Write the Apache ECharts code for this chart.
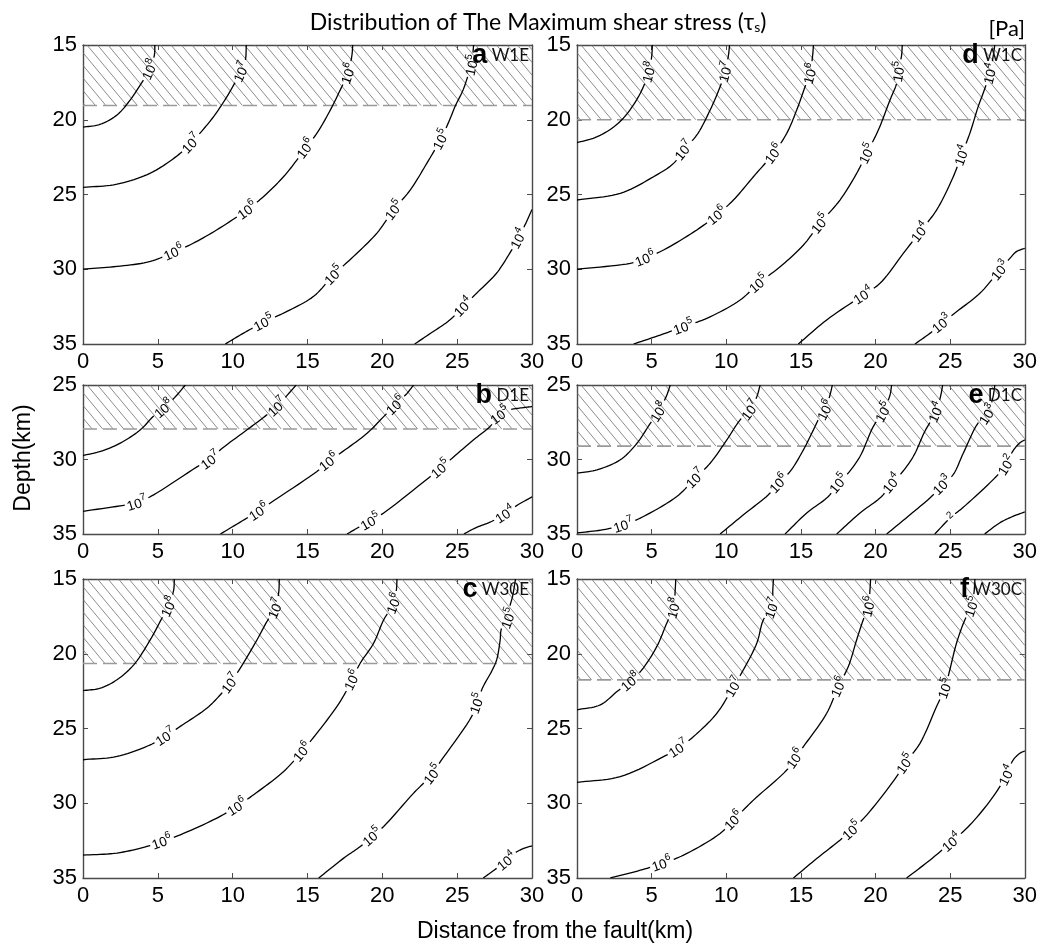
<!DOCTYPE html>
<html><head><meta charset="utf-8">
<script src="https://cdn.jsdelivr.net/npm/echarts@6/dist/echarts.min.js"></script>
<style>html,body{margin:0;padding:0;background:#fff}#c{width:1040px;height:946px}</style>
</head><body><div id="c"></div>
<script>
// ---------------- DATA ----------------
const panelLetters = ['a', 'b', 'c', 'd', 'e', 'f'];
const panelNames = ['W1E', 'D1E', 'W30E', 'W1C', 'D1C', 'W30C'];
const xTicks = [0, 5, 10, 15, 20, 25, 30];
const depthTop = [15, 25, 15, 15, 25, 15];
const depthBottom = [35, 35, 35, 35, 35, 35];
const hatchBase = [19.05, 27.95, 20.65, 20.0, 29.1, 21.75];

// panel a (W1E)
const aLevels = [8, 7, 6, 5, 4];
const aLines = [
  [[0,20.5],[1.16,20.3],[2.27,19.68],[3.16,18.67],[3.83,17.67],[4.45,16.63],[4.77,15.67],[4.8,15]],
  [[0,24.53],[2.27,24.31],[4.5,23.57],[6.28,22.42],[7.22,21.57],[7.73,21.0],[8.73,19.79],[9.62,18.45],[10.07,17.67],[10.56,16.78],[10.85,16.0],[10.91,15]],
  [[0,29.99],[2.27,29.81],[4.5,29.48],[6.06,28.85],[7.17,28.36],[8.95,27.36],[10.96,26.02],[12.07,25.13],[13.41,23.8],[14.3,22.68],[14.86,21.9],[15.63,20.9],[16.53,19.34],[17.19,18.0],[17.71,16.89],[17.97,15.67],[18.02,15]],
  [[9.51,35],[10.73,34.27],[12.07,33.55],[13.63,32.82],[15.41,31.81],[16.75,30.37],[18.08,29.14],[19.64,27.58],[20.76,26.02],[21.87,24.69],[22.98,22.9],[23.9,21.3],[24.5,20.0],[24.85,19.13],[25.4,18.0],[25.74,17.0],[25.96,16.34],[26.1,15]],
  [[22.16,35],[23.2,34.3],[24.5,33.4],[25.4,32.5],[26.3,31.6],[27.6,30.3],[28.5,28.95],[29.08,27.93],[29.55,27.0],[30,26.0]]
];
const aLabels = [
  [[4.45,16.63]],
  [[7.22,21.57],[10.56,16.78]],
  [[6.06,28.85],[10.96,26.02],[14.86,21.9],[17.71,16.89]],
  [[12.07,33.55],[16.75,30.37],[20.76,26.02],[23.9,21.3],[25.96,16.34]],
  [[25.4,32.5],[29.08,27.93]]
];

// panel b (D1E)
const bLevels = [8, 7, 6, 5, 4];
const bLines = [
  [[0,29.73],[1.16,29.46],[2.49,28.9],[3.83,28.01],[4.72,27.08],[5.39,26.56],[6.28,25.67],[6.84,25]],
  [[0,33.48],[2.94,33.04],[3.61,32.92],[4.72,32.37],[7.84,30.36],[8.51,30.02],[9.18,29.35],[10.96,28.01],[12.29,27.0],[12.96,26.45],[13.85,25.45],[14.25,25]],
  [[9.18,35],[10.96,33.93],[11.74,33.48],[12.52,32.92],[15.63,30.8],[16.41,30.13],[17.19,29.58],[18.98,28.24],[20.09,27.12],[20.87,26.34],[21.65,25.56],[22.09,25]],
  [[17.64,35],[18.53,34.49],[19.2,34.15],[20.09,33.59],[23.21,31.14],[23.88,30.6],[24.4,30.14],[26.1,28.68],[27.19,27.79],[27.86,27.0],[28.52,26.67],[29.41,26.52],[30,26.45]],
  [[25.45,35],[26.2,34.6],[27.3,34.16],[28.19,33.65],[29.06,33.04],[29.86,32.59],[30,32.5]]
];
const bLabels = [
  [[5.39,26.56]],
  [[3.61,32.92],[8.51,30.02],[12.96,26.45]],
  [[11.74,33.48],[16.41,30.13],[20.87,26.34]],
  [[19.2,34.15],[23.88,30.6],[27.86,27.0]],
  [[28.19,33.65]]
];

// panel c (W30E)
const cLevels = [8, 7, 6, 5, 4];
const cLines = [
  [[0,22.47],[1.16,22.3],[2.27,21.74],[3.39,20.74],[4.5,19.06],[5.28,17.61],[5.72,16.83],[6.06,15.72],[6.1,15]],
  [[0,27.09],[2.27,26.87],[4.5,26.09],[5.5,25.53],[6.5,24.86],[8.29,23.63],[9.18,22.74],[9.84,21.96],[10.51,20.96],[11.63,19.06],[12.29,17.84],[12.85,16.95],[13.07,15.95],[13.12,15]],
  [[0,33.47],[2.27,33.33],[4.28,32.89],[5.28,32.55],[6.5,32.11],[8.95,30.99],[10.29,30.21],[11.4,29.43],[13.41,27.87],[14.63,26.53],[15.63,25.31],[16.97,23.52],[17.64,22.41],[17.97,21.74],[18.53,20.62],[19.42,19.29],[20.09,17.73],[20.76,16.62],[20.94,15.72],[20.98,15]],
  [[15.75,35],[17.42,33.67],[18.53,32.89],[19.31,32.22],[20.09,31.55],[22.09,29.32],[22.65,28.76],[23.35,28.05],[23.74,27.42],[25.97,24.19],[26.3,23.3],[26.74,22.19],[27.3,21.18],[27.64,20.4],[27.86,19.18],[27.97,18.28],[28.41,17.61],[28.52,16.84],[28.7,16.17],[28.9,15]],
  [[26.74,35],[27.3,34.6],[28.3,33.85],[28.9,33.3],[29.5,33.0],[30,32.85]]
];
const cLabels = [
  [[5.72,16.83]],
  [[5.5,25.53],[9.84,21.96],[12.85,16.95]],
  [[5.28,32.55],[10.29,30.21],[14.63,26.53],[17.97,21.74],[20.76,16.62]],
  [[19.31,32.22],[23.35,28.05],[26.3,23.3],[28.41,17.61]],
  [[28.3,33.85]]
];

// panel d (W1C)
const dLevels = [8, 7, 6, 5, 4, 3];
const dLines = [
  [[0,21.53],[1.2,21.2],[2.3,20.6],[3.1,19.9],[3.85,18.9],[4.4,17.9],[4.8,16.8],[5.0,15.8],[5.05,15]],
  [[0,25.37],[2.9,24.92],[5.13,23.81],[6.47,22.92],[7.14,22.02],[8.03,21.02],[8.92,19.35],[9.59,17.79],[9.93,16.78],[10.15,15.67],[10.22,15]],
  [[0,30.0],[3.57,29.6],[4.57,29.27],[5.8,28.71],[8.03,27.37],[9.37,26.37],[10.48,25.37],[11.82,23.81],[13.16,22.25],[14.05,20.91],[14.72,19.35],[15.28,17.79],[15.61,16.9],[15.79,15.67],[15.84,15]],
  [[3.79,35],[5.58,34.4],[7.14,33.84],[8.7,33.28],[10.93,32.06],[12.16,30.94],[13.61,29.83],[15.17,28.38],[16.28,26.93],[17.62,25.37],[18.74,23.58],[19.41,22.25],[20.19,20.69],[20.97,18.68],[21.42,17.56],[21.53,16.78],[21.75,15.67],[21.79,15]],
  [[14.83,35],[16.73,33.39],[19.18,31.72],[20.3,30.94],[21.86,28.94],[22.98,27.49],[24.09,26.04],[25.21,23.81],[25.76,22.36],[26.32,20.91],[26.88,19.12],[27.21,18.23],[27.66,16.9],[27.88,15.78],[27.99,15]],
  [[22.64,35],[23.64,34.29],[24.43,33.62],[25.43,32.84],[26.99,31.61],[28.33,30.05],[29.0,29.27],[29.44,28.82],[30,28.6]]
];
const dLabels = [
  [[4.8,16.8]],
  [[7.14,22.02],[9.93,16.78]],
  [[4.57,29.27],[9.37,26.37],[13.16,22.25],[15.61,16.9]],
  [[7.14,33.84],[12.16,30.94],[16.28,26.93],[19.41,22.25],[21.53,16.78]],
  [[19.18,31.72],[22.98,27.49],[25.76,22.36],[27.66,16.9]],
  [[24.43,33.62],[28.33,30.05]]
];

// panel e (D1C)
const eLevels = [8, 7, 6, 5, 4, 3, 2, 1];
const eLines = [
  [[0,30.92],[1.34,30.69],[2.9,30.02],[4.02,28.91],[4.91,27.57],[5.47,26.79],[6.02,25.67],[6.25,25]],
  [[0,34.93],[1.78,34.71],[3.12,34.38],[4.24,33.93],[6.69,32.48],[7.92,31.25],[8.92,30.25],[10.04,28.68],[10.93,27.34],[11.6,26.67],[12.05,25.78],[12.27,25]],
  [[9.59,35],[11.15,33.71],[12.82,32.37],[13.5,31.58],[14.28,30.8],[15.17,29.35],[15.84,28.01],[16.28,27.12],[16.62,26.67],[16.95,25.67],[17.11,25]],
  [[13.94,35],[15.39,33.59],[16.84,32.48],[17.51,31.58],[18.07,31.03],[18.96,29.8],[19.85,27.79],[20.52,26.79],[20.97,25.67],[21.08,25]],
  [[17.4,35],[18.96,33.59],[20.41,32.48],[21.08,31.58],[21.64,31.03],[22.53,29.8],[23.31,28.1],[24.05,26.8],[24.35,25.8],[24.5,25]],
  [[20.75,35],[22.31,33.71],[23.87,32.37],[24.45,31.7],[25.19,31.03],[25.88,29.58],[26.86,27.57],[27.5,26.95],[27.85,25.9],[28.0,25]],
  [[23.97,35],[25.08,33.85],[25.84,33.24],[28.09,31.14],[28.76,30.36],[29.18,29.47],[29.65,28.9],[30,28.68]],
  [[27.31,35],[28.31,34.26],[29.2,33.82],[30,33.52]]
];
const eLabels = [
  [[5.47,26.79]],
  [[3.12,34.38],[7.92,31.25],[11.6,26.67]],
  [[13.5,31.58],[16.62,26.67]],
  [[17.51,31.58],[20.52,26.79]],
  [[21.08,31.58],[24.05,26.8]],
  [[24.45,31.7],[27.5,26.95]],
  [[25.08,33.85,'2'],[28.76,30.36]],
  []
];

// panel f (W30C)
const fLevels = [8, 7, 6, 5, 4];
const fLines = [
  [[0,23.75],[1.56,23.42],[2.68,22.53],[3.57,21.85],[4.35,21.07],[5.35,19.51],[6.02,17.94],[6.47,16.94],[6.58,15.71],[6.62,15]],
  [[0,28.6],[2.9,28.22],[5.8,26.88],[6.8,26.32],[7.81,25.54],[9.37,23.98],[10.48,22.19],[11.15,21.07],[12.05,19.28],[12.49,17.72],[13.05,16.94],[13.12,15.71],[13.16,15]],
  [[2.23,35],[4.24,34.48],[5.69,34.03],[7.14,33.47],[9.59,32.02],[10.48,31.13],[11.82,29.79],[14.05,27.78],[14.61,26.99],[15.17,26.21],[16.73,23.98],[17.51,22.19],[18.18,20.85],[18.74,19.06],[19.18,17.72],[19.52,16.83],[19.63,15.71],[19.67,15]],
  [[14.5,35],[16.06,33.7],[17.62,32.47],[18.4,31.8],[19.41,30.79],[21.41,28.22],[21.97,27.33],[22.98,25.99],[24.09,23.53],[24.65,22.3],[24.98,21.07],[25.43,19.28],[25.99,17.72],[26.43,16.83],[26.6,15.9],[26.66,15]],
  [[22.08,35],[23.64,33.81],[25.09,32.58],[26.32,31.46],[27.88,29.56],[28.78,28.11],[29.22,27.11],[29.67,26.66],[30,26.5]]
];
const fLabels = [
  [[3.57,21.85],[6.47,16.94]],
  [[6.8,26.32],[10.48,22.19],[13.05,16.94]],
  [[5.69,34.03],[10.48,31.13],[14.61,26.99],[17.51,22.19],[19.52,16.83]],
  [[18.4,31.8],[21.97,27.33],[24.65,22.3],[26.43,16.83]],
  [[25.09,32.58],[28.78,28.11]]
];

// ---------------- LAYOUT ----------------
const gridBoxes = [[83,45,449,299],[83,385,449,149],[83,579,449,299],[577,45,448,299],[577,385,448,149],[577,579,448,299]];
const panels = [
  {levels: aLevels, lines: aLines, labels: aLabels},
  {levels: bLevels, lines: bLines, labels: bLabels},
  {levels: cLevels, lines: cLines, labels: cLabels},
  {levels: dLevels, lines: dLines, labels: dLabels},
  {levels: eLevels, lines: eLines, labels: eLabels},
  {levels: fLevels, lines: fLines, labels: fLabels}
];
const FRAME = '#4a4a4a';
const NUMFONT = 'Liberation Sans, Arial, sans-serif';
const TICKFONT = 'Liberation Sans Narrow, Liberation Sans, Arial, sans-serif';
const HUMFONT = 'Lato, Open Sans, sans-serif';

function tj(ti, a, b) { return ti + Math.max(Math.sqrt(Math.hypot(b[0]-a[0], b[1]-a[1])), 1e-4); }
function crSeg(p0, p1, p2, p3, n, out) {
  const t0 = 0, t1 = tj(t0, p0, p1), t2 = tj(t1, p1, p2), t3 = tj(t2, p2, p3);
  for (let k = 1; k <= n; k++) {
    const t = t1 + (t2 - t1) * k / n;
    const mix = (a, b, ta, tb) => [((tb - t) * a[0] + (t - ta) * b[0]) / (tb - ta), ((tb - t) * a[1] + (t - ta) * b[1]) / (tb - ta)];
    const A1 = mix(p0, p1, t0, t1), A2 = mix(p1, p2, t1, t2), A3 = mix(p2, p3, t2, t3);
    const B1 = mix(A1, A2, t0, t2), B2 = mix(A2, A3, t1, t3);
    out.push(mix(B1, B2, t1, t2));
  }
}
function smoothPath(P) {
  if (P.length < 3) return P.slice();
  const out = [P[0]];
  const n = P.length;
  for (let i = 0; i < n - 1; i++) {
    const p0 = i === 0 ? [2 * P[0][0] - P[1][0], 2 * P[0][1] - P[1][1]] : P[i - 1];
    const p3 = i === n - 2 ? [2 * P[n - 1][0] - P[n - 2][0], 2 * P[n - 1][1] - P[n - 2][1]] : P[i + 2];
    crSeg(p0, P[i], P[i + 1], p3, 10, out);
  }
  return out;
}

function contourRenderer(panel) {
  return function (params, api) {
    const k = params.dataIndex;
    const dense = smoothPath(panel.lines[k].map(p => api.coord(p)));
    const cum = [0];
    for (let j = 1; j < dense.length; j++) cum.push(cum[j - 1] + Math.hypot(dense[j][0] - dense[j - 1][0], dense[j][1] - dense[j - 1][1]));
    const total = cum[cum.length - 1];
    const pointAt = s => {
      s = Math.max(0, Math.min(total, s));
      for (let j = 0; j < dense.length - 1; j++) {
        if (s <= cum[j + 1]) {
          const L = cum[j + 1] - cum[j] || 1e-9, t = (s - cum[j]) / L;
          return [dense[j][0] + t * (dense[j + 1][0] - dense[j][0]), dense[j][1] + t * (dense[j + 1][1] - dense[j][1])];
        }
      }
      return dense[dense.length - 1];
    };
    const gaps = [], texts = [];
    (panel.labels[k] || []).forEach(lb => {
      const q = api.coord([lb[0], lb[1]]);
      let best = Infinity, bs = 0;
      for (let j = 0; j < dense.length - 1; j++) {
        const ax = dense[j][0], ay = dense[j][1], dx = dense[j + 1][0] - ax, dy = dense[j + 1][1] - ay;
        const l2 = dx * dx + dy * dy || 1e-9;
        let t = ((q[0] - ax) * dx + (q[1] - ay) * dy) / l2;
        t = Math.max(0, Math.min(1, t));
        const d = Math.hypot(q[0] - ax - t * dx, q[1] - ay - t * dy);
        if (d < best) { best = d; bs = cum[j] + t * Math.sqrt(l2); }
      }
      const custom = lb.length > 2 ? String(lb[2]) : null;
      const half = custom ? 5 : 12.5;
      gaps.push([bs - half, bs + half]);
      const p1 = pointAt(bs - half), p2 = pointAt(bs + half), c = pointAt(bs);
      let ang = Math.atan2(p2[1] - p1[1], p2[0] - p1[0]);
      if (ang > Math.PI / 2) ang -= Math.PI;
      if (ang < -Math.PI / 2) ang += Math.PI;
      const kids = custom
        ? [{type: 'text', x: 0, y: -2, style: {text: custom, fontSize: 10, fontFamily: NUMFONT, align: 'center', verticalAlign: 'middle', fill: '#000'}}]
        : [{type: 'text', x: -10.5, y: 1.5, style: {text: '10', fontSize: 13.5, fontFamily: NUMFONT, align: 'left', verticalAlign: 'middle', fill: '#000'}},
           {type: 'text', x: 4.5, y: -4, style: {text: String(panel.levels[k]), fontSize: 10, fontFamily: NUMFONT, align: 'left', verticalAlign: 'middle', fill: '#000'}}];
      texts.push({type: 'group', x: c[0], y: c[1], rotation: -ang, children: kids});
    });
    gaps.sort((a, b) => a[0] - b[0]);
    const pieces = [];
    let start = 0;
    gaps.forEach(g => { if (g[0] > start) pieces.push([start, g[0]]); start = Math.max(start, g[1]); });
    if (start < total) pieces.push([start, total]);
    const children = [];
    pieces.forEach(([a, b]) => {
      const pts = [pointAt(a)];
      for (let j = 0; j < dense.length; j++) if (cum[j] > a && cum[j] < b) pts.push(dense[j]);
      pts.push(pointAt(b));
      children.push({type: 'polyline', shape: {points: pts}, style: {stroke: '#000', lineWidth: 1.3, fill: null}});
    });
    return {type: 'group', children: children.concat(texts)};
  };
}

function hatchRenderer(i) {
  return function (params, api) {
    const tl = api.coord([xTicks[0], depthTop[i]]);
    const br = api.coord([xTicks[xTicks.length - 1], hatchBase[i]]);
    const L = tl[0], T = tl[1], R = br[0], B = br[1];
    const h = B - T, slope = 1.2, sp = 10.5;
    const children = [];
    for (let xs = L - Math.ceil(h / slope / sp) * sp + 4; xs < R; xs += sp) {
      let x1 = xs, y1 = T, x2 = xs + h / slope, y2 = B;
      if (x1 < L) { y1 = T + (L - xs) * slope; x1 = L; }
      if (x2 > R) { y2 = T + (R - xs) * slope; x2 = R; }
      if (y1 < y2) children.push({type: 'line', shape: {x1, y1, x2, y2}, style: {stroke: '#6e6e6e', lineWidth: 0.8}});
    }
    children.push({type: 'line', shape: {x1: L, y1: B, x2: R, y2: B}, style: {stroke: '#9a9a9a', lineWidth: 1.6, lineDash: [14, 6]}});
    return {type: 'group', children};
  };
}

const grids = [], xAxes = [], yAxes = [], series = [], graphics = [];
gridBoxes.forEach((g, i) => {
  grids.push({left: g[0], top: g[1], width: g[2], height: g[3], show: false});
  const axLine = {show: true, onZero: false, lineStyle: {color: FRAME, width: 1.4}};
  const tick = {show: true, inside: true, length: 5, lineStyle: {color: FRAME, width: 1}};
  const lab = {fontSize: 22, fontFamily: TICKFONT, color: '#000'};
  xAxes.push({gridIndex: i, type: 'value', position: 'bottom', min: xTicks[0], max: xTicks[xTicks.length - 1], interval: 5,
    axisLine: axLine, axisTick: tick, splitLine: {show: false}, axisLabel: Object.assign({margin: 7}, lab)});
  xAxes.push({gridIndex: i, type: 'value', position: 'top', min: xTicks[0], max: xTicks[xTicks.length - 1], interval: 5,
    axisLine: axLine, axisTick: tick, splitLine: {show: false}, axisLabel: {show: false}});
  yAxes.push({gridIndex: i, type: 'value', position: 'left', inverse: true, min: depthTop[i], max: depthBottom[i], interval: 5,
    axisLine: axLine, axisTick: tick, splitLine: {show: false}, axisLabel: Object.assign({margin: 6}, lab)});
  yAxes.push({gridIndex: i, type: 'value', position: 'right', inverse: true, min: depthTop[i], max: depthBottom[i], interval: 5,
    axisLine: axLine, axisTick: tick, splitLine: {show: false}, axisLabel: {show: false}});
  series.push({type: 'custom', xAxisIndex: 2 * i, yAxisIndex: 2 * i, z: 1, clip: true, silent: true,
    data: [[xTicks[0], depthTop[i]]], renderItem: hatchRenderer(i)});
  series.push({type: 'custom', xAxisIndex: 2 * i, yAxisIndex: 2 * i, z: 3, clip: true, silent: true,
    data: panels[i].lines.map(l => l[0]), renderItem: contourRenderer(panels[i])});
  graphics.push({type: 'text', x: g[0] + g[2] - 3, y: g[1] + 11, z: 10,
    style: {text: '{l|' + panelLetters[i] + '}{n| ' + panelNames[i] + '}', align: 'right', verticalAlign: 'middle',
      rich: {l: {fontSize: 27, fontWeight: 'bold', fontFamily: NUMFONT, fill: '#000', lineHeight: 26},
             n: {fontSize: 17, fontFamily: HUMFONT, fill: '#111', lineHeight: 26}}}});
});

graphics.push({type: 'text', x: 538, y: 21, style: {text: '{t|Distribution of The Maximum shear stress (τ}{s|s}{t|)}', align: 'center', verticalAlign: 'middle',
  rich: {t: {fontSize: 23, fontFamily: HUMFONT, fill: '#000', lineHeight: 27, verticalAlign: 'bottom'},
         s: {fontSize: 14, fontFamily: HUMFONT, fill: '#000', lineHeight: 14, verticalAlign: 'bottom'}}}});
graphics.push({type: 'text', x: 1025, y: 29, style: {text: '[Pa]', align: 'right', verticalAlign: 'middle', fontSize: 22, fontFamily: HUMFONT, fill: '#000'}});
graphics.push({type: 'text', x: 24, y: 458, rotation: Math.PI / 2, style: {text: 'Depth(km)', align: 'center', verticalAlign: 'middle', fontSize: 23, fontFamily: NUMFONT, fill: '#000'}});
graphics.push({type: 'text', x: 555, y: 932, style: {text: 'Distance from the fault(km)', align: 'center', verticalAlign: 'middle', fontSize: 23, fontFamily: NUMFONT, fill: '#000'}});

const chart = echarts.init(document.getElementById('c'), null, {renderer: 'canvas'});
chart.setOption({
  animation: false,
  backgroundColor: '#fff',
  grid: grids,
  xAxis: xAxes,
  yAxis: yAxes,
  series: series,
  graphic: graphics
});
</script></body></html>
